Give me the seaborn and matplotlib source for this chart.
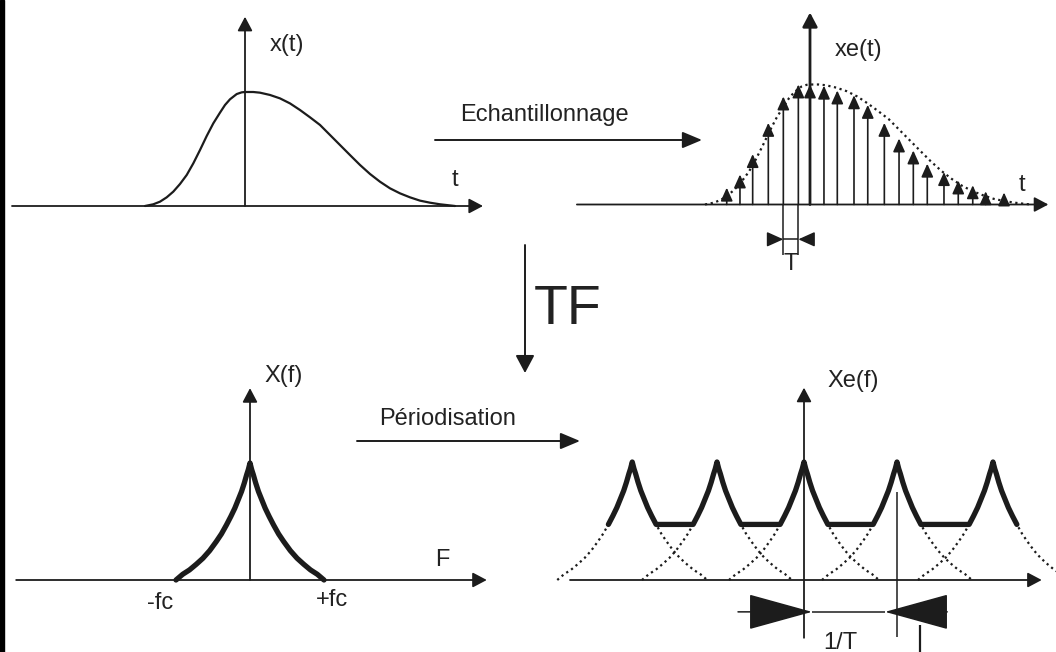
import numpy as np
import matplotlib.pyplot as plt
import matplotlib.patches as mpatches
import seaborn as sns

# x(t) : continuous signal (t in ~10 px units)
t_curve = [-10.0, -9.17, -8.5, -7.83, -7.17, -6.5, -5.83, -5.17, -4.5, -3.83, -3.17,
           -2.5, -2.0, -1.5, -0.83, -0.33, 0, 0.83, 1.5, 2.5, 3.5, 4.5, 5.5, 6.5,
           7.5, 8.5, 9.5, 10.5, 11.5, 12.5, 13.5, 14.5, 15.5, 16.5, 17.5, 18.5,
           19.5, 21.0]
x_curve = [0, 0.015, 0.038, 0.076, 0.126, 0.193, 0.272, 0.374, 0.491, 0.614, 0.725,
           0.819, 0.886, 0.936, 0.982, 0.997, 1.0, 1.0, 0.994, 0.974, 0.944, 0.9,
           0.842, 0.778, 0.711, 0.623, 0.535, 0.447, 0.36, 0.281, 0.213, 0.155,
           0.111, 0.076, 0.047, 0.029, 0.015, 0]

# xe(t) : sampled values (Dirac arrows)
t_samples = [-7.93, -6.67, -5.46, -3.97, -2.54, -1.11, 0, 1.33, 2.6, 4.19, 5.5, 7.08,
             8.48, 9.84, 11.17, 12.76, 14.12, 15.5, 16.73, 18.48]
xe_samples = [0.14, 0.25, 0.42, 0.68, 0.90, 1.0, 1.0, 0.99, 0.95, 0.91, 0.83, 0.68,
              0.55, 0.45, 0.34, 0.27, 0.20, 0.16, 0.11, 0.10]

# X(f) : spectrum shape, f in units of fc
f_shape = [-1.0, -0.909, -0.818, -0.727, -0.636, -0.545, -0.455, -0.386, -0.318,
           -0.259, -0.205, -0.159, -0.114, -0.077, -0.045, -0.023, 0,
           0.023, 0.045, 0.077, 0.114, 0.159, 0.205, 0.259, 0.318, 0.386, 0.455,
           0.545, 0.636, 0.727, 0.818, 0.909, 1.0]
X_shape = [0, 0.049, 0.086, 0.134, 0.186, 0.251, 0.329, 0.394, 0.471,
           0.543, 0.614, 0.686, 0.757, 0.829, 0.9, 0.943, 1.0,
           0.943, 0.9, 0.829, 0.757, 0.686, 0.614, 0.543, 0.471, 0.394, 0.329,
           0.251, 0.186, 0.134, 0.086, 0.049, 0]

# Xe(f) : centres of the periodised copies (k/T)
copy_centres = [-2.29, -1.16, 0, 1.24, 2.52]
overlap_level = 0.471

INK = '#1c1c1c'
TXT = '#222222'
W, H = 1056, 652

sns.set_style('white')
plt.rcParams['font.family'] = ['Liberation Sans', 'DejaVu Sans']

fig = plt.figure(figsize=(W / 100, H / 100), dpi=100)
fig.patch.set_facecolor('white')


def panel(x0, y0, sx, sy, xlim, ylim):
    left = (x0 + xlim[0] * sx) / W
    width = (xlim[1] - xlim[0]) * sx / W
    bottom = (H - y0 + ylim[0] * sy) / H
    height = (ylim[1] - ylim[0]) * sy / H
    ax = fig.add_axes([left, bottom, width, height])
    ax.set_xlim(xlim)
    ax.set_ylim(ylim)
    ax.axis('off')
    return ax


def arrow(ax, start, end, lw=1.3, ms=10, hl=0.85, hw=0.45):
    ax.annotate('', xy=end, xytext=start, annotation_clip=False,
                arrowprops=dict(arrowstyle=f'-|>,head_length={hl},head_width={hw}',
                                lw=lw, color=INK, shrinkA=0, shrinkB=0,
                                mutation_scale=ms))


def label(ax, x, y, s, size=17, **kw):
    ax.text(x, y, s, fontsize=size, color=TXT, ha='center', va='center', **kw)


# ---- x(t)
ax1 = panel(245, 206, 10, 114, (-24, 24), (-0.4, 1.75))
arrow(ax1, (-23.3, 0), (23.8, 0))
arrow(ax1, (0, 0), (0, 1.66))
sns.lineplot(x=t_curve, y=x_curve, ax=ax1, color=INK, lw=1.6, estimator=None)
label(ax1, 4.2, 1.41, 'x(t)')
label(ax1, 21, 0.23, 't')

# ---- xe(t)
ax2 = panel(810, 204.5, 10.5, 120, (-23, 23), (-0.6, 1.7))
arrow(ax2, (-22.2, 0), (22.7, 0))
ax2.plot(t_curve, x_curve, color=INK, lw=1.6, ls=(0, (1, 1.6)), clip_on=False)
for t, a in zip(t_samples, xe_samples):
    arrow(ax2, (t, 0), (t, a), lw=1.2, ms=8, hl=1.0, hw=0.45)
arrow(ax2, (0, 0), (0, 1.6), lw=2.0)
ta, tb = t_samples[4], t_samples[5]
ax2.vlines([ta, tb], -0.42, 0, color=INK, lw=1.1)
ax2.hlines(-0.29, ta, tb, color=INK, lw=1.1)
arrow(ax2, (ta - 1.3, -0.29), (ta, -0.29), lw=1.1, ms=10, hl=1.0, hw=0.45)
arrow(ax2, (tb + 1.4, -0.29), (tb, -0.29), lw=1.1, ms=10, hl=1.0, hw=0.45)
ax2.text((ta + tb) / 2, -0.40, 'T', fontsize=17, color=TXT, ha='center', va='top')
label(ax2, 4.6, 1.29, 'xe(t)')
label(ax2, 20.2, 0.16, 't')

# ---- X(f)
ax3 = panel(250, 580, 74, 117, (-3.4, 3.4), (-0.6, 1.75))
arrow(ax3, (-3.16, 0), (3.2, 0))
arrow(ax3, (0, 0), (0, 1.64))
sns.lineplot(x=f_shape, y=X_shape, ax=ax3, color=INK, lw=3.8, estimator=None, sort=False)
label(ax3, 0.45, 1.74, 'X(f)')
label(ax3, 2.6, 0.17, 'F')
label(ax3, -1.22, -0.2, '-fc')
label(ax3, 1.11, -0.17, '+fc')

# ---- Xe(f)
ax4 = panel(804, 580, 75, 118, (-3.4, 3.4), (-0.65, 1.75))
arrow(ax4, (-3.12, 0), (3.17, 0))
for c in copy_centres:
    ax4.plot(np.array(f_shape) + c, X_shape, color=INK, lw=1.6, ls=(0, (1, 1.6)))
f_top = [f for f, v in zip(f_shape, X_shape) if v >= overlap_level]
X_top = [v for v in X_shape if v >= overlap_level]
solid_f = np.concatenate([np.array(f_top) + c for c in copy_centres])
solid_X = np.tile(X_top, len(copy_centres))
sns.lineplot(x=solid_f, y=solid_X, ax=ax4, color=INK, lw=3.8, estimator=None, sort=False)
arrow(ax4, (0, -0.49), (0, 1.63))
p1 = copy_centres[3]
ax4.vlines(p1, -0.48, 0.75, color=INK, lw=1.1)
ax4.vlines(1.55, -0.75, -0.38, color=INK, lw=1.6, clip_on=False)
ax4.hlines(-0.27, 0.107, 1.08, color=INK, lw=1.1)
arrow(ax4, (-0.88, -0.27), (0.107, -0.27), lw=1.1, ms=20, hl=2.1, hw=0.58)
arrow(ax4, (1.91, -0.27), (1.08, -0.27), lw=1.1, ms=20, hl=2.1, hw=0.58)
label(ax4, 0.48, -0.53, '1/T')
label(ax4, 0.65, 1.69, 'Xe(f)')

# ---- connecting arrows and captions
ov = fig.add_axes([0, 0, 1, 1])
ov.set_xlim(0, W)
ov.set_ylim(H, 0)
ov.axis('off')
ov.add_patch(mpatches.Rectangle((0, 0), 4, H, color='black'))
arrow(ov, (435, 140), (702, 140), lw=1.4, ms=12, hl=1.0, hw=0.42)
label(ov, 544, 115, 'Echantillonnage')
arrow(ov, (357, 441), (580, 441), lw=1.4, ms=12, hl=1.0, hw=0.42)
label(ov, 448, 419, 'Périodisation')
arrow(ov, (525, 245), (525, 373), lw=1.4, ms=12, hl=0.9, hw=0.48)
label(ov, 568, 310, 'TF', size=40)

plt.savefig('out.png', dpi=100)
